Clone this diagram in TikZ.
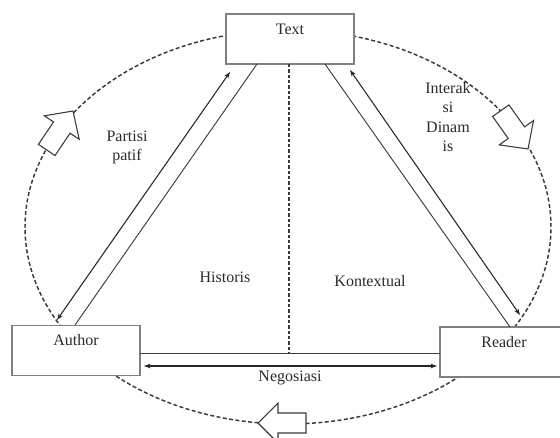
\documentclass[tikz,border=0pt]{standalone}
\usepackage{fontspec}
\setmainfont{Liberation Serif}
\usetikzlibrary{arrows.meta,calc}
\definecolor{boxgray}{HTML}{808080}
\definecolor{linegray}{HTML}{3A3A3A}
\definecolor{txt}{HTML}{2A2A2A}
\begin{document}
\begin{tikzpicture}[x=0.75pt,y=-0.75pt,
  box/.style={draw=boxgray, line width=0.8pt, fill=white, minimum width=96pt, minimum height=37.5pt, inner sep=0pt},
  lbl/.style={font=\fontsize{12}{14.5}\selectfont, text=txt, align=center, inner sep=0pt},
  ring/.style={draw=linegray, line width=1.1pt, dash pattern=on 3pt off 1.8pt},
  vdash/.style={draw=linegray, line width=0.9pt, dash pattern=on 2.5pt off 1.5pt},
  plain/.style={draw=linegray, line width=0.7pt},
  dbl/.style={draw=black!85, line width=0.8pt, {Stealth[length=5pt,width=3.5pt]}-{Stealth[length=5pt,width=3.5pt]}},
  blockarrow/.style={draw=linegray, line width=0.8pt, fill=white, line join=miter}]
\useasboundingbox (0,0) rectangle (560,438);
\clip (0,0) rectangle (560,438);
% dashed ring
\draw[ring] (288,227) ellipse [x radius=197.25pt, y radius=147.75pt];
% boxes
\node[box] (text) at (290,39) {};
\node[box] (author) at (76,350.5) {};
\node[box] (reader) at (504,352) {};
% anchor coordinates
\coordinate (tA1) at (257,64);
\coordinate (aT1) at (75,325);
\coordinate (tA2) at (230,72);
\coordinate (aT2) at (57,320);
\coordinate (tR1) at (325,64);
\coordinate (rT1) at (510,327);
\coordinate (tR2) at (350,70);
\coordinate (rT2) at (520,315);
\coordinate (vtop) at (289,64);
\coordinate (vbot) at (289,353);
\coordinate (aR1) at (140,353);
\coordinate (rA1) at (440,353);
\coordinate (aR2) at (144,366);
\coordinate (rA2) at (437,366);
% connectors
\draw[plain] (tA1) -- (aT1);
\draw[dbl] (aT2) -- (tA2);
\draw[plain] (tR1) -- (rT1);
\draw[dbl] (tR2) -- (rT2);
\draw[vdash] (vtop) -- (vbot);
\draw[plain] (aR1) -- (rA1);
\draw[dbl] (aR2) -- (rA2);
% block arrows on the ring
\begin{scope}[shift={(73,111)}, rotate=56]
  \draw[blockarrow] (0,0) -- (-20,21) -- (-20,10) -- (-47,10) -- (-47,-10) -- (-20,-10) -- (-20,-21) -- cycle;
\end{scope}
\begin{scope}[shift={(528,149)}, rotate=-54.6]
  \draw[blockarrow] (0,0) -- (-20,21) -- (-20,10) -- (-47,10) -- (-47,-10) -- (-20,-10) -- (-20,-21) -- cycle;
\end{scope}
\begin{scope}[shift={(258,423)}, rotate=180]
  \draw[blockarrow] (0,0) -- (-20,20) -- (-20,10) -- (-48,10) -- (-48,-10) -- (-20,-10) -- (-20,-20) -- cycle;
\end{scope}
% labels
\node[lbl] (textlbl) at (290,29) {Text};
\node[lbl] (authorlbl) at (76,340) {Author};
\node[lbl] (readerlbl) at (504,342) {Reader};
\node[lbl] (histlbl) at (225,277) {Historis};
\node[lbl] (kontlbl) at (370,281) {Kontextual};
\node[lbl] (neglbl) at (290,378) {Negosiasi};
\node[lbl] (partlbl) at (127,147.5) {Partisi\\patif};
\node[lbl] (interlbl) at (448,117) {Interak\\si\\Dinam\\is};
\end{tikzpicture}
\end{document}
